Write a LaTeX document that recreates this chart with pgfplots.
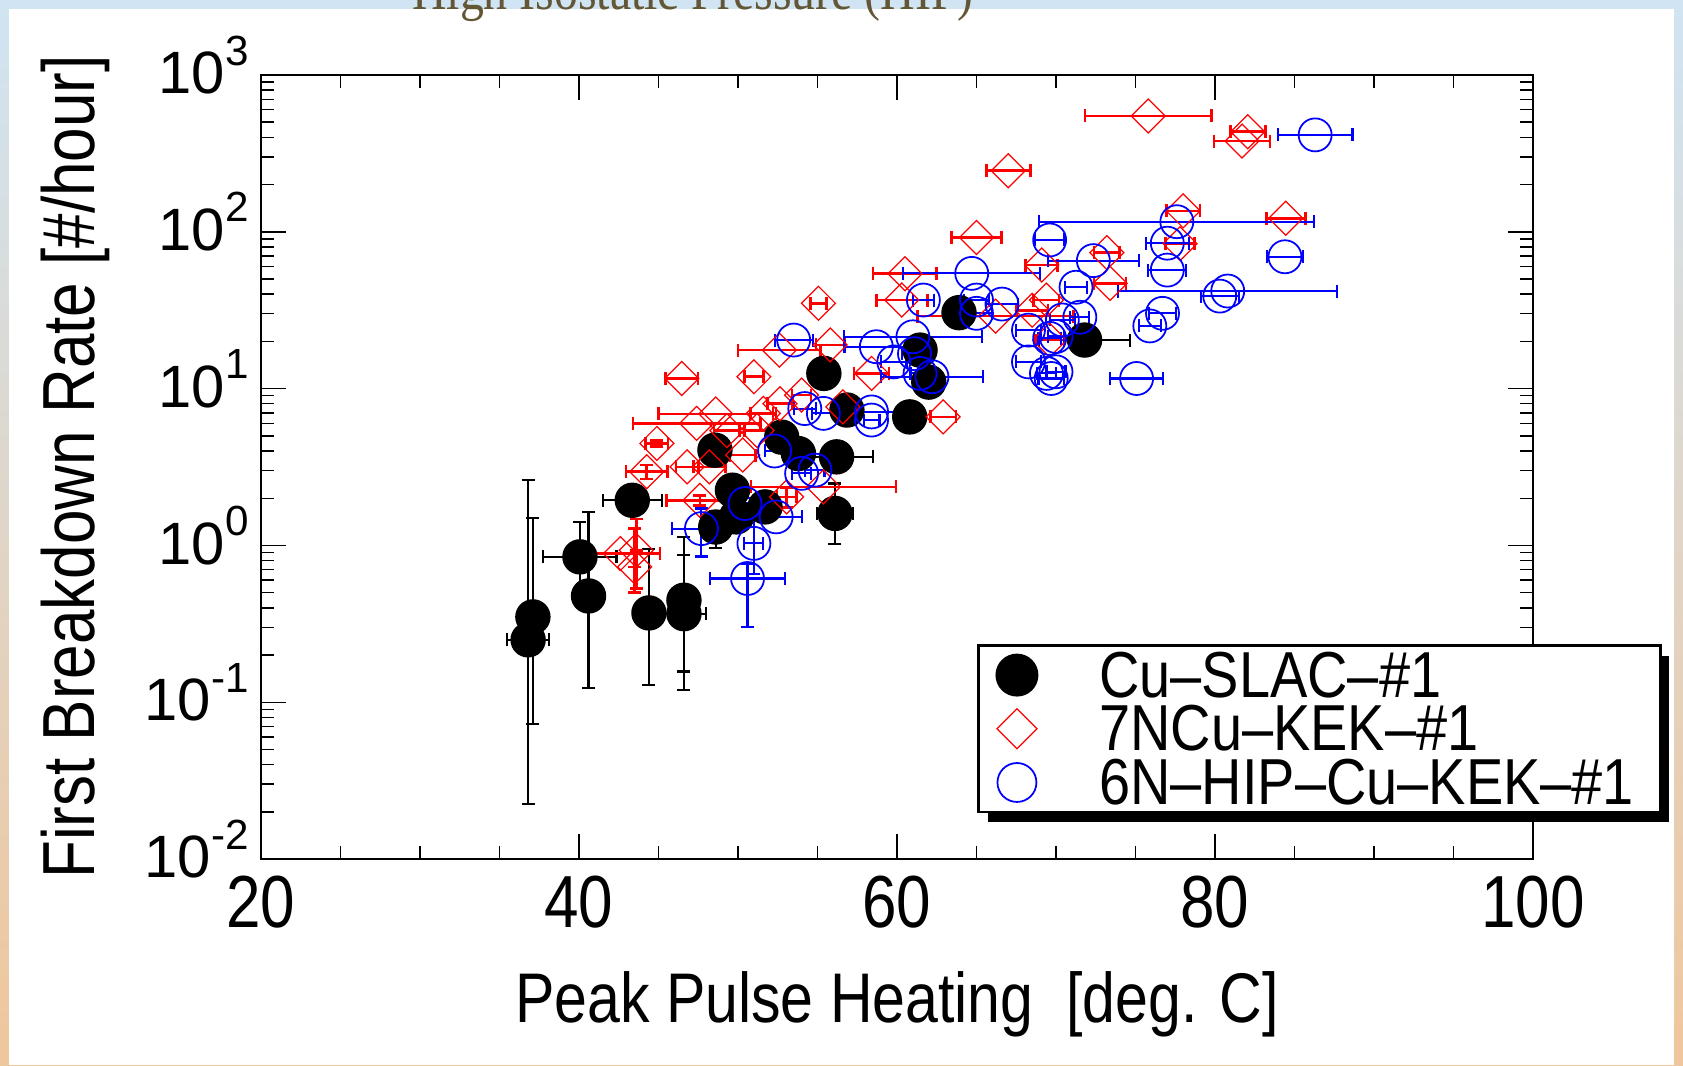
\documentclass[border=0pt]{standalone}
\usepackage{fontspec}
\setmainfont{Liberation Sans}
\newfontfamily\narrow[FakeStretch=0.84, Ligatures=TeX]{Liberation Sans}
\newfontfamily\legfont[FakeStretch=0.86, Ligatures=TeX]{Liberation Sans}
\newfontfamily\titlefont[FakeStretch=0.85]{Liberation Serif}
\usepackage{pgfplots}
\usepackage{pgfplotstable}
\pgfplotsset{compat=1.18}
\usetikzlibrary{shadows}

\definecolor{slideblue}{RGB}{208,228,243}
\definecolor{slidemid}{RGB}{232,222,212}
\definecolor{slidepeach}{RGB}{240,198,156}
\definecolor{titlebrown}{RGB}{98,86,52}

\newcommand\expo[1]{\raisebox{0.48em}{\fontsize{12}{12}\selectfont #1}}

% x  y  x-error  y-error(+)  y-error(-)
\pgfplotstableread{
x     y     ex    eyp   eym
36.8  0.25  1.33  2.35  0.2275
37.1  0.35  0     1.15  0.277
40.06 0.845 2.3   0.57  0.35
40.6  0.476 0     1.16  0.352
43.35 1.94  1.85  0     0
44.4  0.371 0     0.58  0.243
46.6  0.447 0     0.68  0.29
46.6  0.367 1.4   0.5   0.248
48.6  1.31  0     0.35  0.35
49.65 2.25  0     0     0
49.9  1.52  0     0     0
51.7  1.76  0     0     0
48.55 4.05  0     0     0
52.75 4.9   0     0     0
53.8  3.85  0     0     0
56.2  3.67  2.3   0     0
56.1  1.60  1.15  0.88  0.58
55.4  12.5  0     0     0
56.85 7.3   0     0     0
60.8  6.6   0     0     0
61.45 17.6  0     0     0
62.0  11.0  0     0     0
63.9  30.5  0     0     0
71.8  20.4  2.87  0     0
}\slac

\pgfplotstableread{
x     y     ex    eyp   eym
75.8  548   3.98  0     0
82.06 435   1.1   0     0
81.7  379   1.77  0     0
67.0  245   1.38  0     0
65.0  92    1.56  0     0
78.0  136   1.05  0     0
84.45 122   1.23  0     0
77.8  84    0.9   0     0
73.2  73.6  0.8   0     0
69.1  61.4  1.0   0     0
73.4  46.9  1.0   0     0
60.5  54    2.0   0     0
60.3  36.7  1.6   0     0
55.06 35    0.5   0     0
55.8  19    0.9   0     0
58.4  12.5  1.1   0     0
62.9  6.6   0.8   0     0
66.2  29    4.9   0     0
68.5  31.6  1.0   0     0
69.4  36.7  0.8   0     0
69.6  20.4  0.9   0     0
52.6  17.6  2.6   0     0
51.0  11.9  0.6   0     0
46.46 11.6  1.03  0     0
54.0  9.1   0.6   0     0
56.6  7.65  0.5   0     0
52.64 8.0   0.8   0     0
51.6  6.95  0.8   0     0
51.2  5.4   0.8   0     0
47.4  6.0   4.0   0     0
48.6  6.9   3.6   0     0
49.3  5.4   0.8   0     0
44.9  4.47  0.7   0.2   0.2
44.26 2.95  1.3   0.3   0.3
46.8  3.17  0.7   0     0
48.2  3.17  1.0   0     0
50.3  3.77  0.8   0     0
47.6  1.94  2.1   0.15  0.15
53.06 2.04  0.6   0.3   0.3
55.37 2.36  4.56  0     0
42.6  0.887 2.5   0     0
43.6  0.93  0     0.54  0.40
43.5  0.73  0     0.55  0.23
}\kekseven

\pgfplotstableread{
x     y     ex    eyp   eym
86.3  415   2.35  0     0
77.6  116   8.65  0     0
77.0  84.6  1.34  0     0
77.0  57    1.2   0     0
84.4  69.3  1.15  0     0
80.3  38.9  1.2   0     0
80.8  41.9  6.9   0     0
76.7  30.2  0.85  0     0
75.9  25.1  0.7   0     0
75.07 11.6  1.68  0     0
69.6  88.7  0.9   0     0
72.35 65.5  2.86  0     0
71.26 44.3  0.7   0     0
64.7  54.3  4.3   0     0
61.66 36.7  0.65  0     0
65.0  36.7  0.8   0     0
66.6  34.6  1.0   0     0
65.0  30.2  1.0   0     0
68.27 23.6  0.8   0     0
70.4  27.4  0.8   0     0
71.5  28.5  0.6   0     0
69.6  20.9  0.7   0     0
70.0  21.5  0.5   0     0
68.27 14.8  0.8   0     0
69.4  12.5  0.6   0     0
70.0  12.8  0.6   0     0
69.7  11.6  0.8   0     0
61.0  21.4  4.35  0     0
61.1  16.7  0.8   0     0
61.45 12.5  0.6   0     0
62.2  11.9  3.2   0     0
58.7  18.5  2.0   0     0
59.8  14.8  0.8   0     0
53.5  20.4  1.2   0     0
54.2  7.46  0.7   0     0
55.37 6.95  0.7   0     0
58.4  7.1   2.2   0     0
58.4  6.3   0.5   0     0
52.3  4.0   0.6   0     0
54.0  2.88  0.6   0     0
54.84 3.02  0.6   0     0
50.44 1.85  0.6   0.15  0.15
52.4  1.52  1.6   0     0
47.7  1.28  1.85  0.44  0.43
51.0  1.03  0.6   0.57  0.37
50.6  0.615 2.36  0.15  0.315
}\hipkek

\begin{document}
\begin{tikzpicture}
\useasboundingbox (0,0) rectangle (16.83,10.65);
% slide background
\shade[top color=slideblue, middle color=slidemid, bottom color=slidepeach] (0,0) rectangle (16.83,10.65);
\fill[white] (0.09,0) rectangle (16.74,10.56);
\begin{scope}
  \clip (0,0) rectangle (16.83,10.65);
  \node[anchor=base, text=titlebrown, inner sep=0pt] at (6.93,10.55)
    {\titlefont\fontsize{16}{16}\selectfont High Isostatic Pressure (HIP)};
\end{scope}

\begin{axis}[
  at={(2.61cm,2.06cm)}, anchor=south west,
  scale only axis, width=12.72cm, height=7.84cm,
  xmin=20, xmax=100,
  ymode=log, ymin=1e-2, ymax=1e3,
  xtick={20,40,60,80,100},
  xticklabels={20,40,60,80,100},
  minor xtick={25,30,35,45,50,55,65,70,75,85,90,95},
  ytick={1e-2,1e-1,1,1e1,1e2,1e3},
  yticklabels={10\expo{-2},10\expo{-1},10\expo{0},10\expo{1},10\expo{2},10\expo{3}},
  minor ytick={0.02,0.03,0.04,0.05,0.06,0.07,0.08,0.09,0.2,0.3,0.4,0.5,0.6,0.7,0.8,0.9,2,3,4,5,6,7,8,9,20,30,40,50,60,70,80,90,200,300,400,500,600,700,800,900},
  tick align=inside,
  major tick length=0.25cm,
  minor tick length=0.13cm,
  every tick/.style={black, line width=0.4pt},
  axis line style={line width=0.7pt},
  xticklabel style={font=\narrow\fontsize{21}{21}\selectfont, yshift=-0.05cm},
  yticklabel style={font=\fontsize{17}{17}\selectfont, yshift=0.1cm},
  xlabel={Peak Pulse Heating\ \ [deg. C]},
  ylabel={First Breakdown Rate [\#/hour]},
  xlabel style={font=\narrow\fontsize{20}{20}\selectfont, at={(axis description cs:0.5,-0.208)}, anchor=base},
  ylabel style={font=\narrow\fontsize{21}{21}\selectfont, at={(axis description cs:-0.131,0.5)}, anchor=base},
  legend style={
    at={(rel axis cs:0.563,0.274)}, anchor=north west,
    draw=black, line width=0.8pt, fill=white,
    inner xsep=0pt, inner ysep=0.035cm,
    font=\legfont\fontsize{18.5}{18.5}\selectfont,
    nodes={inner sep=0pt, text width=5.61cm, text height=0.48cm, text depth=0.04cm},
    row sep=0.017cm,
    drop shadow={shadow xshift=0.09cm, shadow yshift=-0.1cm, fill=black, opacity=1},
  },
  legend cell align=left,
  legend image code/.code={
    \path (0cm,0cm) (1.18cm,0cm);
    \draw[#1, /tikz/every mark/.append style={scale=1.18}] plot coordinates {(0.37cm,0cm)};
  },
  error bars/y dir=both, error bars/y explicit,
  error bars/x dir=both, error bars/x explicit,
]

\addplot[only marks, black, mark=*, mark size=0.17cm,
  error bars/error bar style={line width=0.6pt, black},
  error bars/error mark options={rotate=90, black, mark size=0.065cm, line width=0.6pt}]
  table[x=x, y=y, x error=ex, y error plus=eyp, y error minus=eym] {\slac};
\addlegendentry{Cu--SLAC--\#1}

\addplot[only marks, red, mark=square, mark size=0.12cm,
  mark options={rotate=45, fill=white, line width=0.35pt},
  error bars/error bar style={line width=0.75pt, red},
  error bars/error mark options={rotate=90, red, mark size=0.065cm, line width=0.75pt}]
  table[x=x, y=y, x error=ex, y error plus=eyp, y error minus=eym] {\kekseven};
\addlegendentry{7NCu--KEK--\#1}

\addplot[only marks, blue, mark=o, mark size=0.165cm,
  mark options={fill=white, line width=0.5pt},
  error bars/error bar style={line width=0.6pt, blue},
  error bars/error mark options={rotate=90, blue, mark size=0.065cm, line width=0.6pt}]
  table[x=x, y=y, x error=ex, y error plus=eyp, y error minus=eym] {\hipkek};
\addlegendentry{6N--HIP--Cu--KEK--\#1}
\end{axis}
\end{tikzpicture}
\end{document}
